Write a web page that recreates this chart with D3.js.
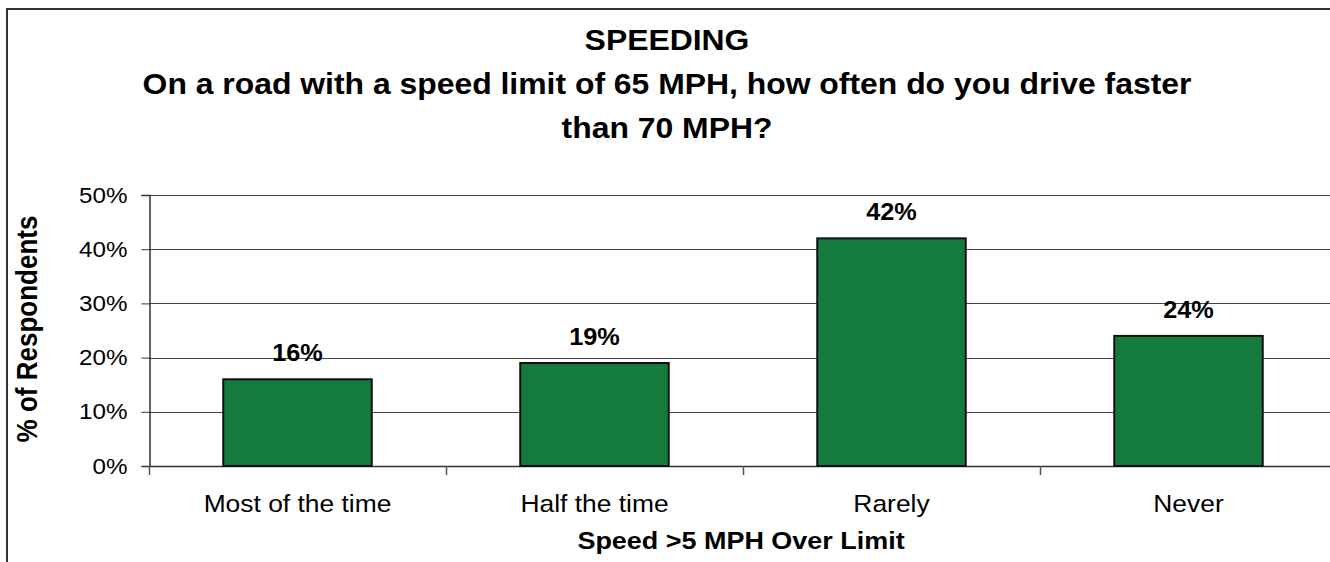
<!DOCTYPE html>
<html>
<head>
<meta charset="utf-8">
<script src="https://cdn.jsdelivr.net/npm/d3@7"></script>
<style>
  html, body { margin: 0; padding: 0; background: #fff; overflow: hidden; }
  svg { display: block; font-family: Arial, "Liberation Sans", sans-serif; }
</style>
</head>
<body>
<svg id="chart" width="1330" height="562"></svg>
<script>
// Survey answers: how often respondents drive faster than 70 MPH on a 65 MPH road
const categories = ["Most of the time", "Half the time", "Rarely", "Never"];
const shares = [16, 19, 42, 24];            // % of respondents
const yTicks = [0, 10, 20, 30, 40, 50];
const titleLines = [
  "SPEEDING",
  "On a road with a speed limit of 65 MPH, how often do you drive faster",
  "than 70 MPH?"
];
const xTitle = "Speed >5 MPH Over Limit";
const yTitle = "% of Respondents";

const W = 1330, H = 562;
const plot = { left: 149, right: 1337, top: 195, bottom: 466 };
const STRETCH = 1.1;   // text is set slightly wide

const svg = d3.select("#chart");

// Places a text item at (px, py), widened horizontally
function wideText(parent, px, py, str, opts) {
  const t = parent.append("text")
    .attr("transform", `translate(${px},${py}) scale(${STRETCH},1)` + (opts.rotate ? ` rotate(${opts.rotate})` : ""))
    .attr("text-anchor", opts.anchor || "middle")
    .attr("font-size", opts.size)
    .attr("font-weight", opts.bold ? "bold" : "normal")
    .attr("fill", "#000")
    .text(str);
  return t;
}

// Outer chart frame (top and left edges; the rest runs off the page)
svg.append("path")
  .attr("d", `M7,${H + 10} V9 H${W + 10}`)
  .attr("fill", "none")
  .attr("stroke", "#333").attr("stroke-width", 2);

const x = d3.scaleBand()
  .domain(categories)
  .range([plot.left, plot.right])
  .paddingInner(0.5)
  .paddingOuter(0.25);

const y = d3.scaleLinear()
  .domain([0, 50])
  .range([plot.bottom, plot.top]);

// Horizontal gridlines
svg.append("g")
  .selectAll("line")
  .data(yTicks.filter(d => d > 0))
  .join("line")
  .attr("x1", plot.left).attr("x2", plot.right)
  .attr("y1", d => Math.round(y(d)) + 0.5)
  .attr("y2", d => Math.round(y(d)) + 0.5)
  .attr("stroke", "#444").attr("stroke-width", 1);

// Y axis
const yAxis = svg.append("g")
  .attr("transform", `translate(${plot.left + 0.5},0)`)
  .call(d3.axisLeft(y).tickValues(yTicks).tickFormat(d => d + "%").tickSizeOuter(0).tickSize(8).tickPadding(14));
yAxis.select(".domain").attr("stroke", "#333").attr("stroke-width", 1.5);
yAxis.selectAll(".tick line").attr("stroke", "#333");
yAxis.selectAll(".tick text")
  .attr("x", null)
  .attr("transform", `translate(-22,0) scale(${STRETCH},1)`)
  .attr("font-size", 22).attr("fill", "#000")
  .attr("font-family", "Arial, 'Liberation Sans', sans-serif");

// Category axis: baseline plus boundary ticks between categories
const catAxis = svg.append("g");
catAxis.append("line")
  .attr("x1", plot.left).attr("x2", plot.right)
  .attr("y1", plot.bottom + 0.5).attr("y2", plot.bottom + 0.5)
  .attr("stroke", "#333").attr("stroke-width", 1.5);
const step = x.step();
const boundaries = d3.range(categories.length + 1).map(i => plot.left + i * step);
catAxis.selectAll("line.tick")
  .data(boundaries)
  .join("line")
  .attr("class", "tick")
  .attr("x1", d => Math.round(d) + 0.5).attr("x2", d => Math.round(d) + 0.5)
  .attr("y1", plot.bottom).attr("y2", plot.bottom + 9)
  .attr("stroke", "#555").attr("stroke-width", 1.5);

categories.forEach(c => {
  wideText(catAxis, x(c) + x.bandwidth() / 2, 512, c, { size: 24 });
});

// Bars
svg.append("g")
  .selectAll("rect")
  .data(categories)
  .join("rect")
  .attr("x", d => x(d))
  .attr("y", (d, i) => y(shares[i]))
  .attr("width", x.bandwidth())
  .attr("height", (d, i) => y(0) - y(shares[i]))
  .attr("fill", "#157A3E")
  .attr("stroke", "#111")
  .attr("stroke-width", 2);

// Value labels
const valueLayer = svg.append("g");
categories.forEach((c, i) => {
  wideText(valueLayer, x(c) + x.bandwidth() / 2, y(shares[i]) - 18, shares[i] + "%", { size: 23, bold: true });
});

// Title
const titleLayer = svg.append("g");
titleLines.forEach((line, i) => {
  wideText(titleLayer, 667, 50 + i * 44, line, { size: 29, bold: true });
});

// Axis titles
wideText(svg, (plot.left + plot.right) / 2 - 2, 549, xTitle, { size: 24.5, bold: true });
wideText(svg, 37, 329, yTitle, { size: 26, bold: true, rotate: -90 });
</script>
</body>
</html>
